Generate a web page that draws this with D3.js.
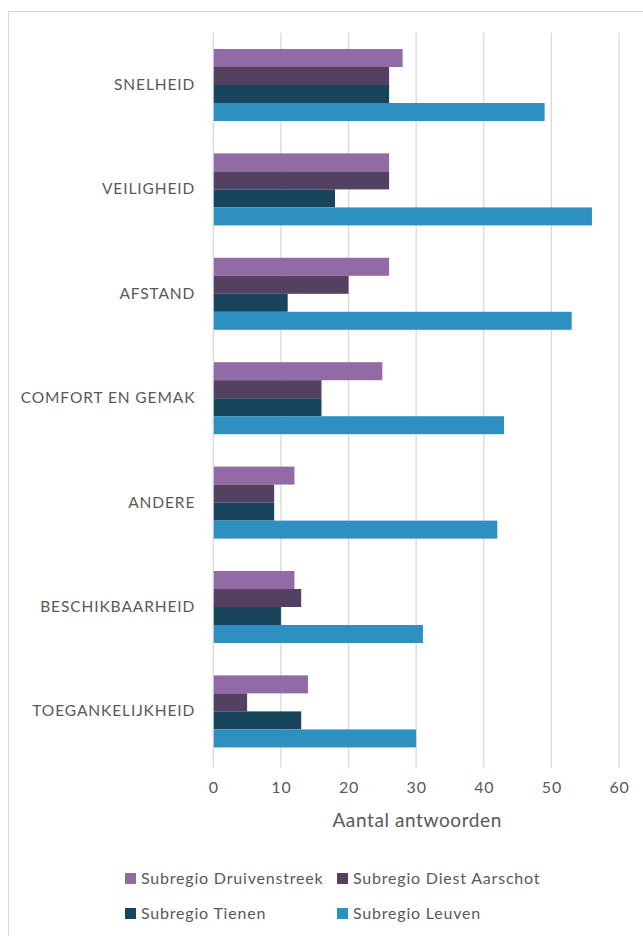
<!DOCTYPE html>
<html><head><meta charset="utf-8">
<script src="https://cdn.jsdelivr.net/npm/d3@7"></script>
<style>body{margin:0;background:#fff}svg{display:block}text{font-family:Lato,"Open Sans",sans-serif;fill:#595959}</style>
</head><body>
<svg id="c" width="643" height="936"></svg>
<script>
const categories=["SNELHEID","VEILIGHEID","AFSTAND","COMFORT EN GEMAK","ANDERE","BESCHIKBAARHEID","TOEGANKELIJKHEID"];
const seriesNames=["Subregio Druivenstreek","Subregio Diest Aarschot","Subregio Tienen","Subregio Leuven"];
const druivenstreek=[28,26,26,25,12,12,14];
const diestAarschot=[26,26,20,16,9,13,5];
const tienen=[26,18,11,16,9,10,13];
const leuven=[49,56,53,43,42,31,30];
const xTicks=[0,10,20,30,40,50,60];
const colors=["#926aa6","#544060","#18455c","#2e90c0"];
const axisTitle="Aantal antwoorden";

const seriesVals=[druivenstreek,diestAarschot,tienen,leuven];
const svg=d3.select("#c");
svg.append("rect").attr("x",8.5).attr("y",11.5).attr("width",700).attr("height",1000).attr("fill","#fff").attr("stroke","#d9d9d9");

const L=213.3,R=619,T=32.8,B=763.6;
const x=d3.scaleLinear().domain([0,60]).range([L,R]);
const y=d3.scaleBand().domain(categories).range([T,B]).paddingInner(0.31).paddingOuter(0.155);
const ys=d3.scaleBand().domain(d3.range(4)).range([0,y.bandwidth()]);

// gridlines
svg.append("g").selectAll("line").data(xTicks).join("line")
 .attr("x1",d=>x(d)).attr("x2",d=>x(d)).attr("y1",T).attr("y2",B+4)
 .attr("stroke","#d9d9d9").attr("stroke-width",1.3);

// bars
const g=svg.append("g");
categories.forEach((c,i)=>{
  seriesVals.forEach((vals,s)=>{
    g.append("rect").attr("x",x(0)+0.5).attr("y",y(c)+ys(s)).attr("width",x(vals[i])-x(0)-0.5)
     .attr("height",ys.bandwidth()).attr("fill",colors[s]);
  });
});

// axis
const xa=svg.append("g").attr("transform",`translate(0,${B})`).call(d3.axisBottom(x).tickValues(xTicks).tickSize(0).tickPadding(18));
xa.select(".domain").remove();
xa.selectAll("text").style("font-size","16px").style("fill","#595959").style("font-family","Lato,'Open Sans',sans-serif").attr("letter-spacing","0.8px");

const ya=svg.append("g").attr("transform",`translate(${L-18},0)`).call(d3.axisLeft(y).tickSize(0).tickPadding(0));
ya.select(".domain").remove();
ya.selectAll("text").style("font-size","15.5px").style("fill","#595959").style("font-family","Lato,'Open Sans',sans-serif").attr("letter-spacing","0.9px");

svg.append("text").attr("x",(L+R)/2+1).attr("y",827).attr("text-anchor","middle").style("font-size","19px").attr("letter-spacing","0.6px").text(axisTitle);

// legend
const legPos=[[125,878],[337,878],[125,913],[337,913]];
seriesNames.forEach((n,i)=>{
  const [lx,ly]=legPos[i];
  svg.append("rect").attr("x",lx).attr("y",ly-5).attr("width",11).attr("height",11).attr("fill",colors[i]);
  svg.append("text").attr("x",lx+16).attr("y",ly+6).style("font-size","16px").attr("letter-spacing","0.8px").text(n);
});
</script>
</body></html>
